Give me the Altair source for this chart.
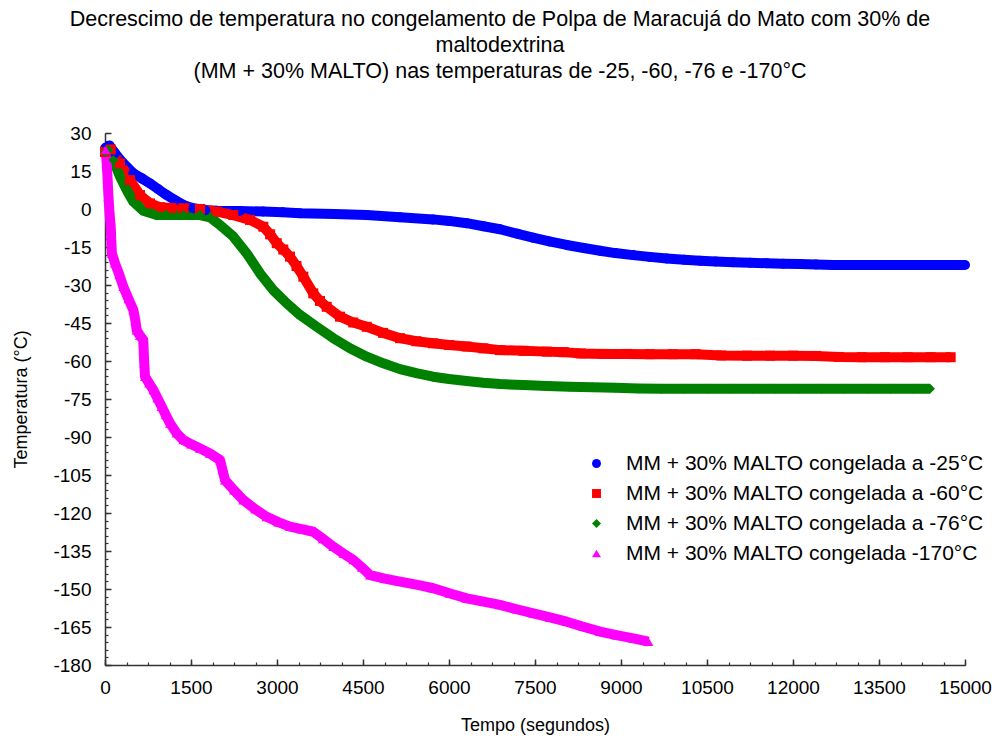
import altair as alt
import pandas as pd

series_names = [
    "MM + 30% MALTO congelada a -25°C",
    "MM + 30% MALTO congelada a -60°C",
    "MM + 30% MALTO congelada  a -76°C",
    "MM + 30% MALTO congelada -170°C",
]
colors = ["#0000FF", "#FF0000", "#008000", "#FF00FF"]
shapes = ["circle", "square", "diamond", "triangle-up"]

# -25 °C (blue)
t_25 = [0, 80, 174, 300, 494, 650, 785, 930, 1076, 1220, 1366, 1535, 1750, 1948, 2350,
        2756, 3100, 3401, 4000, 4565, 5145, 5721, 6000, 6309, 6600, 6890, 7200, 7465,
        7750, 8053, 8350, 8634, 8900, 9209, 9500, 9797, 10100, 10378, 10650, 10953,
        11250, 11541, 11830, 12122, 12400, 12698, 13000, 13291, 13580, 13866, 14150,
        14450, 14750, 15000]
v_25 = [24.0, 25.0, 22.0, 18.5, 14.1, 12.0, 10.1, 7.8, 5.5, 3.5, 1.6, 0.3, -0.5, -0.7, -0.8,
        -1.0, -1.3, -1.7, -2.0, -2.4, -3.3, -4.1, -4.7, -5.6, -6.8, -8.0, -9.8, -11.3,
        -12.8, -14.2, -15.4, -16.5, -17.4, -18.2, -18.9, -19.5, -20.0, -20.4, -20.7, -21.0,
        -21.2, -21.4, -21.6, -21.7, -21.9, -22.1, -22.1, -22.1, -22.1, -22.1, -22.1,
        -22.1, -22.1, -22.1]

# -60 °C (red)
t_60 = [0, 100, 262, 436, 610, 785, 959, 1160, 1366, 1657, 1948, 2238, 2529, 2762, 2880,
        2995, 3110, 3227, 3340, 3459, 3633, 3750, 3867, 4099, 4330, 4565, 4850, 5145,
        5430, 5721, 6000, 6309, 6600, 6890, 7300, 7704, 8000, 8300, 8700, 9100, 9500,
        9900, 10300, 10750, 11200, 11600, 12000, 12400, 12800, 13200, 13600, 14000,
        14400, 14750]
v_60 = [22.5, 23.5, 18.0, 11.4, 5.5, 2.2, 0.7, 0.4, 0.3, 0.0, -1.0, -2.4, -4.3, -7.0, -10.0,
        -13.5, -16.0, -18.8, -22.5, -26.7, -33.3, -36.3, -38.6, -42.5, -44.8, -46.5, -48.9,
        -51.0, -52.2, -53.0, -53.7, -54.3, -55.0, -55.7, -56.0, -56.3, -56.5, -57.0, -57.2,
        -57.2, -57.3, -57.3, -57.3, -57.8, -57.9, -57.9, -57.9, -58.0, -58.4, -58.5, -58.5,
        -58.5, -58.5, -58.5]

# -76 °C (green)
t_76 = [0, 60, 145, 262, 378, 494, 668, 901, 1076, 1370, 1657, 1831, 2006, 2238, 2471,
        2703, 2935, 3169, 3401, 3692, 3982, 4273, 4565, 4854, 5145, 5430, 5721, 6000,
        6309, 6600, 6890, 7300, 7704, 8100, 8500, 8900, 9300, 9700, 10100, 10500, 10900,
        11300, 11700, 12100, 12500, 12900, 13300, 13700, 14100, 14390]
v_76 = [22.5, 23.3, 19.3, 12.8, 7.5, 2.9, -0.7, -2.4, -2.4, -2.4, -2.4, -3.3, -6.3, -10.9,
        -17.5, -25.4, -32.0, -37.2, -41.8, -46.5, -51.0, -55.0, -58.3, -60.9, -63.2, -64.8,
        -66.2, -67.1, -67.9, -68.6, -69.1, -69.5, -69.9, -70.2, -70.4, -70.6, -70.9, -71.0,
        -71.0, -71.0, -71.0, -71.0, -71.0, -71.0, -71.0, -71.0, -71.0, -71.0, -71.0, -71.0]

# -170 °C (magenta)
t_170 = [10, 30, 45, 60, 80, 100, 110, 120, 174, 250, 320, 410, 494, 530, 552, 610, 668,
         675, 685, 698, 770, 843, 915, 988, 1060, 1134, 1250, 1366, 1500, 1657, 1830, 2006,
         2050, 2093, 2250, 2413, 2620, 2820, 3020, 3227, 3430, 3633, 3800, 3982, 4160, 4331,
         4480, 4622, 4880, 5145, 5430, 5727, 6020, 6309, 6600, 6890, 7180, 7471, 7760,
         8053, 8340, 8634, 8920, 9215, 9477]
v_170 = [23.3, 18.0, 12.0, 5.0, -2.0, -7.0, -12.5, -17.5, -21.4, -26.0, -30.7, -35.5, -39.9,
         -44.0, -47.8, -50.0, -51.7, -56.0, -60.9, -66.2, -68.8, -71.4, -74.7, -78.0, -81.3,
         -84.6, -88.5, -91.2, -92.8, -94.5, -96.5, -99.1, -103.0, -107.0, -111.0, -114.9,
         -118.5, -121.5, -123.6, -125.4, -126.4, -127.4, -130.2, -133.3, -136.0, -138.5,
         -141.5, -144.5, -145.9, -147.1, -148.3, -149.7, -151.8, -153.7, -155.0, -156.3,
         -158.0, -159.6, -161.2, -162.9, -164.9, -166.8, -168.2, -169.5, -170.8]

x_major = list(range(0, 15001, 1500))
x_minor = list(range(0, 15001, 375))
y_major = list(range(-180, 31, 15))
y_minor = list(range(-180, 31, 3))

rows = []
for name, ts, vs in zip(series_names, [t_25, t_60, t_76, t_170], [v_25, v_60, v_76, v_170]):
    for t, v in zip(ts, vs):
        rows.append({"serie": name, "tempo": t, "temp": v})
df = pd.DataFrame(rows)

FONT = "Liberation Sans"
xscale = alt.Scale(domain=[0, 15000], nice=False, zero=False)
yscale = alt.Scale(domain=[-180, 30], nice=False, zero=False)
cscale = alt.Scale(domain=series_names, range=colors)
sscale = alt.Scale(domain=series_names, range=shapes)

x_axis = alt.Axis(values=x_major, title="Tempo (segundos)", orient="bottom", grid=False,
                  labelExpr="'' + datum.value",
                  labelFontSize=19, titleFontSize=18, labelFont=FONT, titleFont=FONT,
                  labelColor="black", titleColor="black", titleFontWeight="normal",
                  tickSize={"expr": "-6"}, tickColor="#333", tickWidth=1.5,
                  domainColor="#333", domainWidth=1.5, labelPadding=19, titlePadding=19,
                  labelFlush=False, labelOverlap=False)
y_axis = alt.Axis(values=y_major, title="Temperatura (°C)", orient="left", grid=False,
                  labelExpr="'' + datum.value",
                  labelFontSize=19, titleFontSize=18, labelFont=FONT, titleFont=FONT,
                  labelColor="black", titleColor="black", titleFontWeight="normal",
                  tickSize={"expr": "-6"}, tickColor="#333", tickWidth=1.5,
                  domainColor="#333", domainWidth=1.5, labelPadding=20, titlePadding=22,
                  labelFlush=False, labelOverlap=False)

x_axis_minor = alt.Axis(values=x_minor, title=None, orient="bottom", grid=False, labels=False,
                        domain=False, tickSize={"expr": "-3"}, tickColor="#333", tickWidth=1.2)
y_axis_minor = alt.Axis(values=y_minor, title=None, orient="left", grid=False, labels=False,
                        domain=False, tickSize={"expr": "-3"}, tickColor="#333", tickWidth=1.2)

base = alt.Chart(df)

lines = base.mark_line(strokeWidth=10, strokeJoin="round", strokeCap="butt").encode(
    x=alt.X("tempo:Q", scale=xscale, axis=x_axis),
    y=alt.Y("temp:Q", scale=yscale, axis=y_axis),
    color=alt.Color("serie:N", scale=cscale, legend=None),
    detail="serie:N",
    order=alt.Order("tempo:Q"),
)

legend_cfg = dict(title=None, orient="none", legendX=481, legendY=320,
                  labelFontSize=21, labelFont=FONT, labelColor="black",
                  symbolSize=80, symbolStrokeWidth=0, rowPadding=8,
                  labelOffset=19, labelLimit=500)

points = base.mark_point(filled=True, size=100, opacity=1).encode(
    x=alt.X("tempo:Q", scale=xscale, axis=x_axis_minor),
    y=alt.Y("temp:Q", scale=yscale, axis=y_axis_minor),
    color=alt.Color("serie:N", scale=cscale, legend=alt.Legend(**legend_cfg)),
    shape=alt.Shape("serie:N", scale=sscale, legend=alt.Legend(**legend_cfg)),
)

chart = alt.layer(lines, points).resolve_axis(
    x="independent", y="independent"
).resolve_legend(color="independent", shape="independent").properties(
    width=860,
    height=532,
    autosize=alt.AutoSizeParams(type="none"),
    padding={"left": 105, "top": 133, "right": 37, "bottom": 75},
    title=alt.TitleParams(
        text=["Decrescimo de temperatura no congelamento de Polpa de Maracujá do Mato com 30% de",
              "maltodextrina",
              "(MM + 30% MALTO) nas temperaturas de -25, -60, -76 e -170°C"],
        fontSize=21.5, font=FONT, fontWeight="normal", color="black", anchor="middle",
        lineHeight=26, offset=42, dx=-35,
    ),
).configure(background="white").configure_view(stroke=None)

chart.save("out.html", embed_options={"renderer": "svg", "actions": False})
